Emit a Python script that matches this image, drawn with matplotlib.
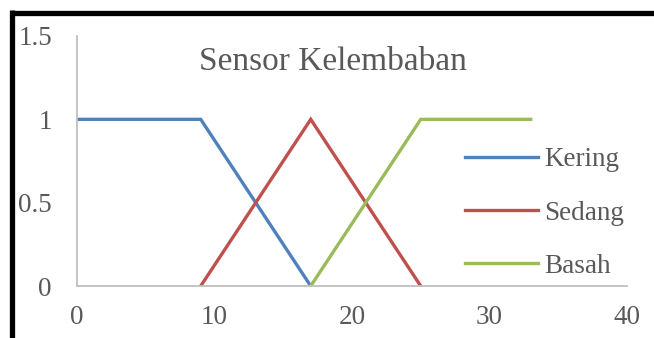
import matplotlib
matplotlib.use("Agg")
import matplotlib.pyplot as plt
from matplotlib.lines import Line2D

# Membership functions for the humidity sensor
kering_x = [0, 9, 17]
kering_y = [1, 1, 0]
sedang_x = [9, 17, 25]
sedang_y = [0, 1, 0]
basah_x = [17, 25, 33]
basah_y = [0, 1, 1]

series_names = ["Kering", "Sedang", "Basah"]
colors = ["#4F81BD", "#C0504D", "#9BBB59"]
title = "Sensor Kelembaban"
xticks = [0, 10, 20, 30, 40]
yticks = [0, 0.5, 1, 1.5]
ytick_labels = ["0", "0.5", "1", "1.5"]

plt.rcParams["font.family"] = ["Liberation Serif", "DejaVu Serif"]
text_color = "#595959"

fig = plt.figure(figsize=(6.54, 3.38), dpi=100)
ax = fig.add_axes([0.1177, 0.1538, 0.8410, 0.7397])

for xs, ys, name, c in zip([kering_x, sedang_x, basah_x],
                           [kering_y, sedang_y, basah_y],
                           series_names, colors):
    ax.plot(xs, ys, color=c, lw=2.4, label=name, solid_joinstyle="miter")

ax.set_xlim(0, 40)
ax.set_ylim(0, 1.5)
ax.set_xticks(xticks)
ax.set_yticks(yticks)
ax.set_yticklabels(ytick_labels)
ax.tick_params(length=0, labelsize=19.5, colors=text_color)
ax.tick_params(axis="y", pad=18)
ax.tick_params(axis="x", pad=14)

for s in ["top", "right"]:
    ax.spines[s].set_visible(False)
for s in ["left", "bottom"]:
    ax.spines[s].set_color("#BFBFBF")
    ax.spines[s].set_linewidth(1.3)

ax.text(0.465, 0.895, title, transform=ax.transAxes, ha="center", va="center",
        fontsize=24, color=text_color)

leg = ax.legend(loc="center left", bbox_to_anchor=(0.685, 0.292), frameon=False,
                fontsize=19.5, handlelength=2.7, handletextpad=0.25,
                labelspacing=1.05, borderaxespad=0)
for t in leg.get_texts():
    t.set_color(text_color)

# Outer frame: thick top and left edges
fig.add_artist(Line2D([0.018, 1.0], [0.963, 0.963], transform=fig.transFigure,
                      color="black", lw=3.8, solid_capstyle="butt"))
fig.add_artist(Line2D([0.018, 0.018], [0.0, 0.969], transform=fig.transFigure,
                      color="black", lw=3.8, solid_capstyle="butt"))

fig.savefig("out.png", dpi=100)
